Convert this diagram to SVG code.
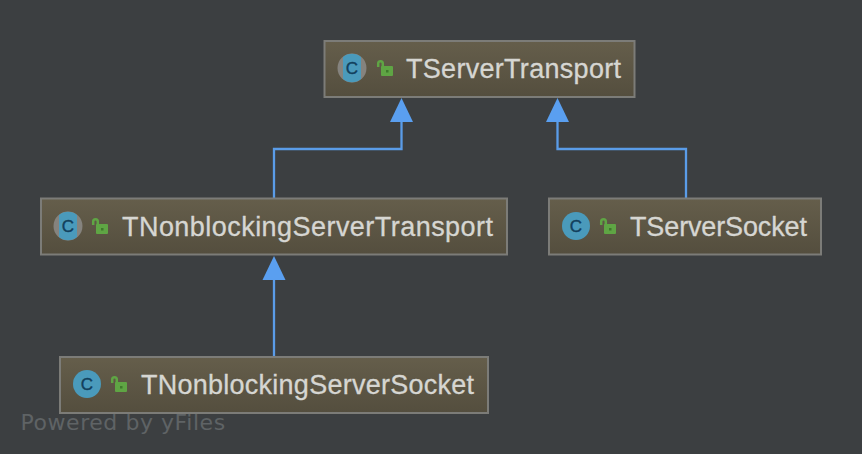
<svg xmlns="http://www.w3.org/2000/svg" width="862" height="454" viewBox="0 0 862 454">
<style>
.box{fill:url(#nf);stroke:#7c7c78;stroke-width:2}
.lbl{font-family:"Liberation Sans",Arial,sans-serif;font-size:27px;fill:#d6d6d2;stroke:#d6d6d2;stroke-width:.3px}
.c{font-family:"Liberation Sans",Arial,sans-serif;font-size:17px;fill:#123f5c;stroke:#123f5c;stroke-width:.4px;text-anchor:middle}
.wm{font-family:"DejaVu Sans",sans-serif;font-size:22px;fill:#5f6365;letter-spacing:.55px}
.edge{fill:none;stroke:#5a9ce8;stroke-width:2.300}
.head{fill:#5a9ff0}
.ci{fill:#4a9abb}
.ab{fill:#85837e}
.lock{fill:#5fa544}
.dot{fill:#3f7a2c}
.sh{fill:none;stroke:#5fa544;stroke-width:2.500}
</style>
<defs>
<linearGradient id="nf" x1="0" y1="0" x2="0" y2="1"><stop offset="0" stop-color="#655e4b"/><stop offset="1" stop-color="#544e3e"/></linearGradient>
<g id="lk"><rect x="4" y="6" width="12" height="10" rx="1" class="lock"/><rect x="9" y="10" width="2.500" height="2.500" class="dot"/><path d="M1.200 7V3.500Q1.200 1.200 3.500 1.200T5.800 3.500V7" class="sh"/></g>
<path id="half" class="ci" d="M-9 -11.100A14.300 14.300 0 0 1 9 -11.100V11.100A14.300 14.300 0 0 1 -9 11.100Z"/>
</defs>
<rect width="862" height="454" fill="#3c3f41"/>
<g id="connectors">
<path class="edge" d="M274 198V149H401.500V120"/><path class="head" d="M401.500 98L413 122H390Z"/>
<path class="edge" d="M686 198V149H557.500V120"/><path class="head" d="M557.500 98L569 122H546Z"/>
<path class="edge" d="M274 356V278"/><path class="head" d="M274 256L285.500 280H262.500Z"/>
</g>
<g id="TServerTransport"><rect class="box" x="324.500" y="41" width="310" height="56"/>
<circle class="ab" cx="352" cy="68" r="14.500"/><use href="#half" x="352" y="68"/><text class="c" x="352" y="74">C</text>
<use href="#lk" x="377" y="60"/><text class="lbl" x="406" y="78" textLength="215">TServerTransport</text></g>
<g id="TNonblockingServerTransport"><rect class="box" x="41" y="198.500" width="466" height="56"/>
<circle class="ab" cx="68" cy="226" r="14.500"/><use href="#half" x="68" y="226"/><text class="c" x="68" y="232">C</text>
<use href="#lk" x="92" y="218"/><text class="lbl" x="122" y="236" textLength="371">TNonblockingServerTransport</text></g>
<g id="TServerSocket"><rect class="box" x="549" y="198.500" width="272" height="56"/>
<circle class="ci" cx="576" cy="226" r="14"/><text class="c" x="576" y="232">C</text>
<use href="#lk" x="600" y="218"/><text class="lbl" x="630" y="236" textLength="177">TServerSocket</text></g>
<g id="TNonblockingServerSocket"><rect class="box" x="60" y="357" width="428" height="56"/>
<circle class="ci" cx="87" cy="384" r="14"/><text class="c" x="87" y="390">C</text>
<use href="#lk" x="111" y="376"/><text class="lbl" x="141" y="394" textLength="333">TNonblockingServerSocket</text></g>
<text class="wm" x="20.500" y="430">Powered by yFiles</text>
</svg>
